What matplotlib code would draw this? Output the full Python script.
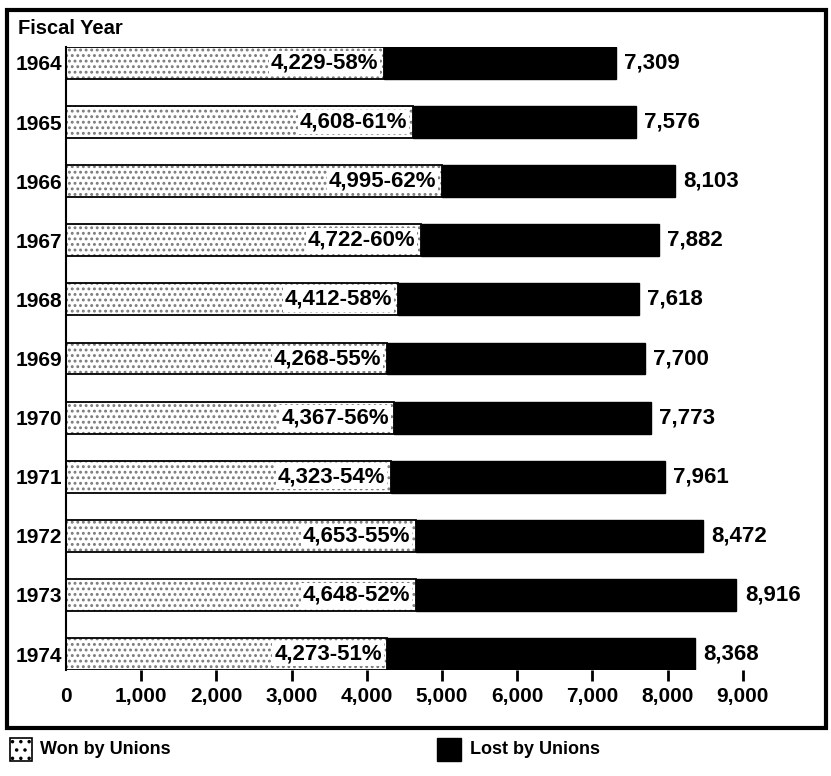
import matplotlib.pyplot as plt
from matplotlib.patches import Rectangle

# NLRB representation elections, fiscal years 1964-1974
years = ["1964", "1965", "1966", "1967", "1968", "1969",
         "1970", "1971", "1972", "1973", "1974"]
won = [4229, 4608, 4995, 4722, 4412, 4268, 4367, 4323, 4653, 4648, 4273]
won_pct = [58, 61, 62, 60, 58, 55, 56, 54, 55, 52, 51]
total = [7309, 7576, 8103, 7882, 7618, 7700, 7773, 7961, 8472, 8916, 8368]
lost = [t - w for t, w in zip(total, won)]

xticks = [0, 1000, 2000, 3000, 4000, 5000, 6000, 7000, 8000, 9000]

plt.rcParams["font.family"] = ["Liberation Sans", "DejaVu Sans"]
plt.rcParams["font.weight"] = "bold"
plt.rcParams["hatch.linewidth"] = 1.3

W, H = 831, 776
fig = plt.figure(figsize=(W / 100, H / 100), dpi=100)
ax = fig.add_axes([66 / W, (H - 670) / H, 752 / W, 623 / H])

ypos = list(range(len(years)))
bh = 0.54

# won segment: stipple fill, then a black outline on top
ax.barh(ypos, won, height=bh, color="white", edgecolor="#7a7a7a",
        hatch="...", linewidth=0)
ax.barh(ypos, won, height=bh, fill=False, edgecolor="black", linewidth=1.3)
ax.barh(ypos, lost, left=won, height=bh, color="black", edgecolor="black",
        linewidth=1.0)

for y, w, p, t in zip(ypos, won, won_pct, total):
    ax.annotate(f"{w:,}-{p}%", (w, y), xytext=(-4, 0),
                textcoords="offset points", ha="right", va="center",
                fontsize=16, fontweight="bold",
                bbox=dict(boxstyle="square,pad=0.08", fc="white", ec="none"))
    ax.annotate(f"{t:,}", (t, y), xytext=(6, 0), textcoords="offset points",
                ha="left", va="center", fontsize=16, fontweight="bold")

ax.set_xlim(0, 10000)
ax.set_ylim(10.27, -0.27)
ax.set_yticks(ypos)
ax.set_yticklabels(years, fontsize=15, fontweight="bold")
ax.tick_params(axis="y", length=0, pad=3)
ax.set_xticks(xticks)
ax.set_xticklabels([f"{v:,}" for v in xticks], fontsize=15, fontweight="bold")
ax.tick_params(axis="x", length=8, width=2, pad=4)
ax.xaxis.get_major_ticks()[0].tick1line.set_visible(False)

for side in ["top", "right", "bottom"]:
    ax.spines[side].set_visible(False)
ax.spines["left"].set_linewidth(1.5)

fig.text(18 / W, 1 - 28 / H, "Fiscal Year", fontsize=14.5, fontweight="bold",
         va="center", ha="left")

# outer frame around the chart
fig.patches.append(Rectangle((7 / W, 1 - 728 / H), 819 / W, 718 / H,
                             transform=fig.transFigure, fill=False,
                             edgecolor="black", linewidth=3.0))

# legend below the frame
fig.patches.append(Rectangle((10 / W, 1 - 761 / H), 22 / W, 23 / H,
                             transform=fig.transFigure, facecolor="white",
                             edgecolor="black", hatch="..", linewidth=1.2))
fig.text(40 / W, 1 - 749 / H, "Won by Unions", fontsize=13,
         fontweight="bold", va="center", ha="left")
fig.patches.append(Rectangle((437 / W, 1 - 761 / H), 24 / W, 23 / H,
                             transform=fig.transFigure, facecolor="black",
                             edgecolor="black", linewidth=1.0))
fig.text(470 / W, 1 - 749 / H, "Lost by Unions", fontsize=13,
         fontweight="bold", va="center", ha="left")

fig.savefig("out.png", dpi=100)
